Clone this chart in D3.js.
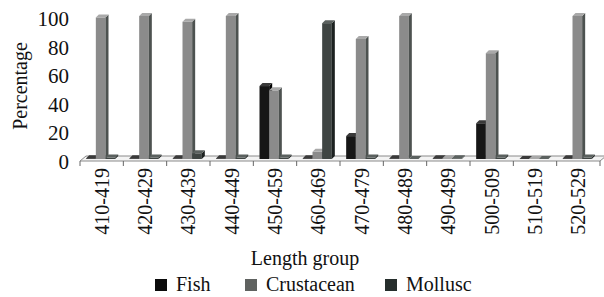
<!DOCTYPE html>
<html>
<head>
<meta charset="utf-8">
<script src="https://cdnjs.cloudflare.com/ajax/libs/d3/7.8.5/d3.min.js"></script>
<style>
  body { margin: 0; background: #fff; }
  text { font-family: "Times New Roman", Times, "Liberation Serif", serif; fill: #111; }
</style>
</head>
<body>
<div id="chart"></div>
<script>
// length groups and the share (%) of each prey type
var groups = ["410-419", "420-429", "430-439", "440-449", "450-459", "460-469",
              "470-479", "480-489", "490-499", "500-509", "510-519", "520-529"];
var fish       = [0.5, 0.5, 0.5, 0.5, 51, 0.5, 16, 0.5, 0.5, 25, 0, 0.5];
var crustacean = [99, 100, 96, 100, 48, 5, 84, 100, 0.5, 74, 0, 100];
var mollusc    = [1, 1, 4, 1, 1, 95, 1, 0, 0.5, 1, 0, 1];
var series = ["Fish", "Crustacean", "Mollusc"];
var yTicks = [0, 20, 40, 60, 80, 100];

var W = 604, H = 297;
var svg = d3.select("#chart").append("svg").attr("width", W).attr("height", H);

var x = d3.scaleBand().domain(groups).range([80, 600]);
var inner = d3.scaleBand().domain(series).range([0, 29]);
var y = d3.scaleLinear().domain([0, 100]).range([159, 16]);

var colors = {
  Fish:       { front: "#161616", top: "#3a3a3a", side: "#000" },
  Crustacean: { front: "#8b8b8b", top: "#a9a9a9", side: "#4d5250" },
  Mollusc:    { front: "#3f4543", top: "#5b615f", side: "#1c2120" }
};
var legendColors = { Fish: "#0b0b0b", Crustacean: "#5f6260", Mollusc: "#262e2c" };

var dx = 3, dy = 3;

// floor of the 3d plot
svg.append("polygon")
  .attr("points", [[80, 161], [600, 161], [606, 156], [86, 156]].join(" "))
  .attr("fill", "#f3f3f3")
  .attr("stroke", "#8a8a8a")
  .attr("stroke-width", 1);

// category ticks
var bounds = groups.map(function (g) { return x(g); }).concat([600]);
svg.selectAll(".tick")
  .data(bounds)
  .enter().append("line")
  .attr("x1", function (d) { return d; })
  .attr("x2", function (d) { return d; })
  .attr("y1", 161).attr("y2", 166)
  .attr("stroke", "#666");

var data = [];
groups.forEach(function (g, i) {
  [fish[i], crustacean[i], mollusc[i]].forEach(function (v, j) {
    data.push({ g: g, s: series[j], v: v });
  });
});

var bw = inner.bandwidth();
var bars = svg.append("g").selectAll("g")
  .data(data)
  .enter().append("g");

bars.each(function (d) {
  var g = d3.select(this);
  var x0 = x(d.g) + (x.bandwidth() - 29) / 2 - 1 + inner(d.s);
  var yv = y(d.v), y0 = y(0);
  var c = colors[d.s];
  g.append("rect")
    .attr("x", x0).attr("y", yv)
    .attr("width", bw).attr("height", Math.max(0, y0 - yv))
    .attr("fill", c.front);
  g.append("polygon")
    .attr("points", [[x0 + bw, yv], [x0 + bw + dx, yv - dy], [x0 + bw + dx, y0 - dy], [x0 + bw, y0]].join(" "))
    .attr("fill", c.side);
  g.append("polygon")
    .attr("points", [[x0, yv], [x0 + dx, yv - dy], [x0 + bw + dx, yv - dy], [x0 + bw, yv]].join(" "))
    .attr("fill", c.top);
});

// y labels
svg.selectAll(".ylab")
  .data(yTicks)
  .enter().append("text")
  .attr("x", 69)
  .attr("y", function (d) { return y(d) + 3; })
  .attr("text-anchor", "end")
  .attr("dominant-baseline", "central")
  .style("font-size", "21px")
  .text(function (d) { return d; });

svg.append("text")
  .attr("transform", "translate(20,86) rotate(-90)")
  .attr("text-anchor", "middle")
  .attr("dominant-baseline", "central")
  .style("font-size", "20px")
  .text("Percentage");

// x labels
svg.selectAll(".xlab")
  .data(groups)
  .enter().append("text")
  .attr("transform", function (d) {
    return "translate(" + (x(d) + x.bandwidth() / 2) + ",168) rotate(-90)";
  })
  .attr("text-anchor", "end")
  .attr("dominant-baseline", "central")
  .style("font-size", "20px")
  .text(function (d) { return d; });

svg.append("text")
  .attr("x", 305).attr("y", 265)
  .attr("text-anchor", "middle")
  .style("font-size", "20px")
  .text("Length group");

// legend
var legX = [155, 245, 385];
var leg = svg.selectAll(".leg")
  .data(series)
  .enter().append("g")
  .attr("transform", function (d, i) { return "translate(" + legX[i] + ",279)"; });
leg.append("rect")
  .attr("width", 12).attr("height", 12)
  .attr("fill", function (d) { return legendColors[d]; });
leg.append("text")
  .attr("x", 21).attr("y", 12)
  .style("font-size", "20px")
  .text(function (d) { return d; });
</script>
</body>
</html>
